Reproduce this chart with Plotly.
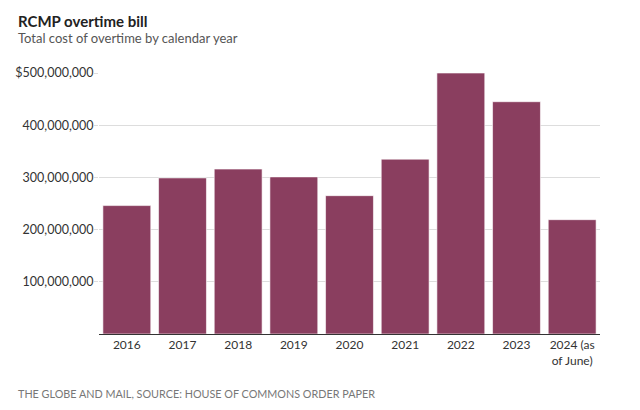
import plotly.graph_objects as go

years = ["2016", "2017", "2018", "2019", "2020", "2021", "2022", "2023", "2024 (as<br>of June)"]
overtime_cost = [246e6, 299e6, 316e6, 301e6, 265e6, 335e6, 500e6, 445e6, 219e6]
tick_values = [100e6, 200e6, 300e6, 400e6, 500e6]
tick_labels = ["100,000,000", "200,000,000", "300,000,000", "400,000,000", "$500,000,000"]

FONT = "Lato"
OFF = 8  # page body margin offset
W, H = 624, 394
L, R, T, B = 98.5 - OFF, 600 - OFF, 73 - OFF, 334.5 - OFF  # plot area in figure px


def px(x):
    return (x - OFF - L) / (R - L)


def py(y):
    return 1 - (y - OFF - T) / (B - T)


fig = go.Figure(go.Bar(
    x=years, y=overtime_cost,
    marker=dict(color="#8a3e5f", line=dict(color="#ffffff", width=0.6)),
    hoverinfo="skip",
))

fig.update_layout(
    width=W, height=H,
    margin=dict(l=L, r=W - R, t=T, b=H - B, pad=0),
    paper_bgcolor="white", plot_bgcolor="white",
    bargap=0.14,
    showlegend=False,
    font=dict(family=FONT, color="#333333", size=12),
    xaxis=dict(
        showgrid=False, ticks="", showline=True, linecolor="#333333", linewidth=1,
        tickfont=dict(size=12, color="#333333"), automargin=False,
    ),
    yaxis=dict(
        range=[0, 500e6], tickvals=tick_values, ticktext=tick_labels,
        showgrid=True, gridcolor="#dddddd", gridwidth=1,
        ticks="outside", ticklen=4, tickcolor="#dddddd",
        zeroline=False, showline=False, automargin=False,
        ticklabelstandoff=-2,
        tickfont=dict(size=12.5, color="#333333"),
    ),
)

fig.add_annotation(text="<b>RCMP overtime bill</b>", xref="paper", yref="paper",
                   x=px(15), y=py(20.5), xanchor="left", yanchor="middle",
                   showarrow=False, font=dict(size=15, color="#222222", family=FONT))
fig.add_annotation(text="Total cost of overtime by calendar year", xref="paper", yref="paper",
                   x=px(15), y=py(38), xanchor="left", yanchor="middle",
                   showarrow=False, font=dict(size=13, color="#555555", family=FONT))
fig.add_annotation(text="THE GLOBE AND MAIL, SOURCE: HOUSE OF COMMONS ORDER PAPER", xref="paper", yref="paper",
                   x=px(15), y=py(394.5), xanchor="left", yanchor="middle",
                   showarrow=False, font=dict(size=10.8, color="#777777", family=FONT))

fig.write_html("out.html")
